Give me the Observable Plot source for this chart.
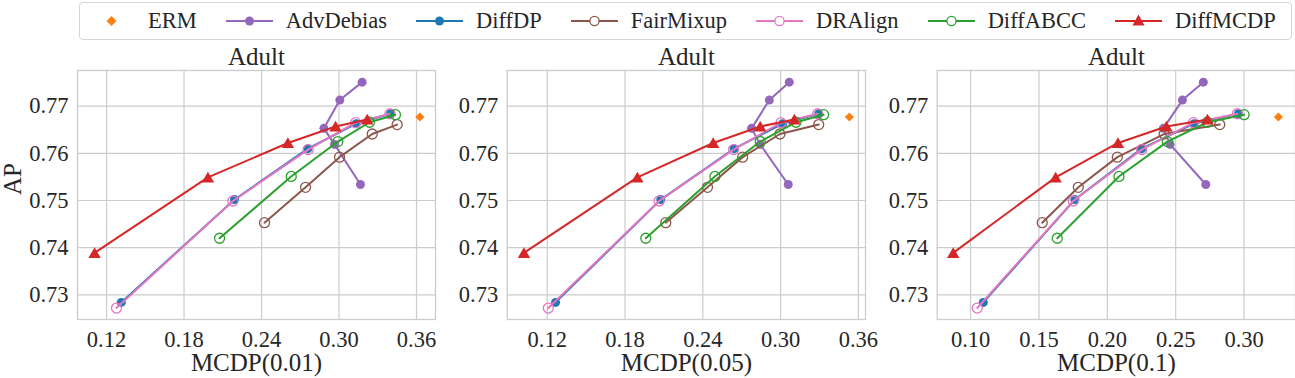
<!DOCTYPE html>
<html>
<head>
<meta charset="utf-8">
<script src="https://cdn.jsdelivr.net/npm/d3@7"></script>
<script src="https://cdn.jsdelivr.net/npm/@observablehq/plot@0.6"></script>
<style>
  html, body { margin: 0; padding: 0; background: #fff; }
  body { font-family: "Liberation Serif", "Times New Roman", serif; color: #262626; }
  #wrap { position: relative; width: 1295px; height: 378px; overflow: hidden; background: #fff; }
  #legend { position: absolute; left: 79px; top: 2px; width: 1213px; height: 38px; box-sizing: border-box;
            border: 1px solid #d6d6d6; border-radius: 4px; display: flex; align-items: center;
            padding-left: 8px; font-size: 22.5px; white-space: nowrap; }
  .item { display: flex; align-items: center; margin-right: 29px; }
  .item svg { margin-right: 13px; display: block; }
  .panel { position: absolute; top: 0; }
  .panel text { font-family: "Liberation Serif", "Times New Roman", serif !important; font-variant-numeric: normal; }
</style>
</head>
<body>
<div id="wrap"><div id="legend"></div></div>
<script>
// ---------------- data ----------------
const methods = ["ERM", "AdvDebias", "DiffDP", "FairMixup", "DRAlign", "DiffABCC", "DiffMCDP"];
const colors  = ["#ff7f0e", "#9467bd", "#1f77b4", "#8c564b", "#e377c2", "#2ca02c", "#d62728"];
const panelTitle = "Adult";
const xLabels = ["MCDP(0.01)", "MCDP(0.05)", "MCDP(0.1)"];
const xTicks = [
  [0.12, 0.18, 0.24, 0.30, 0.36],
  [0.12, 0.18, 0.24, 0.30, 0.36],
  [0.10, 0.15, 0.20, 0.25, 0.30]
];
const yTicks = [0.73, 0.74, 0.75, 0.76, 0.77];

// AP (same for every panel)
const apERM       = [0.7677];
const apAdvDebias = [0.7751, 0.7713, 0.7653, 0.7619, 0.7534];
const apDiffDP    = [0.7284, 0.7502, 0.7610, 0.7663, 0.7684];
const apFairMixup = [0.7453, 0.7528, 0.7592, 0.7641, 0.7661];
const apDRAlign   = [0.7272, 0.7499, 0.7608, 0.7665, 0.7684];
const apDiffABCC  = [0.7420, 0.7551, 0.7625, 0.7666, 0.7682];
const apDiffMCDP  = [0.7389, 0.7549, 0.7622, 0.7657, 0.7672];

// MCDP values, one row per panel: MCDP(0.01), MCDP(0.05), MCDP(0.1)
const mcdpERM = [[0.3626], [0.3531], [0.3251]];
const mcdpAdvDebias = [
  [0.3179, 0.3006, 0.2883, 0.2965, 0.3166],
  [0.3067, 0.2913, 0.2776, 0.2843, 0.3059],
  [0.2702, 0.2549, 0.2410, 0.2459, 0.2720]
];
const mcdpDiffDP = [
  [0.1314, 0.2191, 0.2759, 0.3133, 0.3399],
  [0.1264, 0.2076, 0.2642, 0.3016, 0.3294],
  [0.1093, 0.1763, 0.2251, 0.2634, 0.2959]
];
const mcdpFairMixup = [
  [0.2423, 0.2741, 0.3004, 0.3257, 0.3450],
  [0.2114, 0.2436, 0.2707, 0.2995, 0.3294],
  [0.1524, 0.1788, 0.2073, 0.2415, 0.2822]
];
const mcdpDRAlign = [
  [0.1277, 0.2178, 0.2761, 0.3128, 0.3394],
  [0.1208, 0.2063, 0.2637, 0.3003, 0.3286],
  [0.1049, 0.1751, 0.2251, 0.2629, 0.2951]
];
const mcdpDiffABCC = [
  [0.2075, 0.2630, 0.2991, 0.3236, 0.3437],
  [0.1960, 0.2493, 0.2843, 0.3119, 0.3332],
  [0.1634, 0.2085, 0.2439, 0.2732, 0.3000]
];
const mcdpDiffMCDP = [
  [0.1107, 0.1985, 0.2604, 0.2973, 0.3218],
  [0.1020, 0.1895, 0.2480, 0.2843, 0.3106],
  [0.0873, 0.1622, 0.2078, 0.2432, 0.2732]
];

// ---------------- build ----------------
const apBy   = [apERM, apAdvDebias, apDiffDP, apFairMixup, apDRAlign, apDiffABCC, apDiffMCDP];
const mcdpBy = [mcdpERM, mcdpAdvDebias, mcdpDiffDP, mcdpFairMixup, mcdpDRAlign, mcdpDiffABCC, mcdpDiffMCDP];
// marker style per method: [symbol, filled, hasLine]
const styles = [
  ["diamond2", true, false],
  ["circle", true, true],
  ["circle", true, true],
  ["circle", false, true],
  ["circle", false, true],
  ["circle", false, true],
  ["triangle", true, true]
];

const FONT = "'Liberation Serif', 'Times New Roman', serif";
const layout = [
  {left: 0,   width: 440, ml: 77,   mr: 5, domain: [0.0975, 0.3747]},
  {left: 440, width: 430, ml: 66.7, mr: 5, domain: [0.0891, 0.3655]},
  {left: 870, width: 425, ml: 66.7, mr: 0, domain: [0.0756, 0.3376]}
];
const fmt = d3.format(".2f");
const wrap = document.getElementById("wrap");

layout.forEach((L, p) => {
  const marks = [
    Plot.gridX(xTicks[p], {stroke: "#cccccc", strokeOpacity: 1, strokeWidth: 1.2}),
    Plot.gridY(yTicks, {stroke: "#cccccc", strokeOpacity: 1, strokeWidth: 1.2}),
    Plot.frame({stroke: "#cccccc", strokeWidth: 1.3})
  ];
  methods.forEach((m, k) => {
    const rows = mcdpBy[k][p].map((x, i) => ({x, y: apBy[k][i], method: m}));
    const [symbol, filled, hasLine] = styles[k];
    if (hasLine) marks.push(Plot.line(rows, {x: "x", y: "y", stroke: colors[k], strokeWidth: 2}));
    const r = symbol === "triangle" ? 4.6 : symbol === "diamond2" ? 4.1 : filled ? 4.5 : 5;
    marks.push(Plot.dot(rows, {
      x: "x", y: "y", symbol, r,
      fill: filled ? colors[k] : "none",
      stroke: filled ? "none" : colors[k],
      strokeWidth: filled ? 0 : 1.3,
      dy: symbol === "triangle" ? 1.5 : 0
    }));
  });
  marks.push(
    Plot.axisX(xTicks[p], {tickSize: 0, tickPadding: 12, tickFormat: fmt, fontSize: 22.5, fontFamily: FONT, label: null, fill: "#262626"}),
    Plot.axisY(yTicks, {tickSize: 0, tickPadding: 9, tickFormat: fmt, fontSize: 22.5, fontFamily: FONT, label: null, fill: "#262626"}),
    Plot.text([panelTitle], {frameAnchor: "top", dy: -6, lineAnchor: "bottom", fontSize: 25, fontFamily: FONT, fill: "#262626"}),
    Plot.text([xLabels[p]], {frameAnchor: "bottom", dy: 51, lineAnchor: "bottom", fontSize: 25, fontFamily: FONT, fill: "#262626"})
  );
  if (p === 0) marks.push(Plot.text(["AP"], {frameAnchor: "left", rotate: -90, dx: -57, lineAnchor: "bottom", fontSize: 25, fontFamily: FONT, fill: "#262626"}));

  const chart = Plot.plot({
    width: L.width, height: 378,
    marginLeft: L.ml, marginRight: L.mr, marginTop: 70, marginBottom: 59,
    x: {domain: L.domain},
    y: {domain: [0.72477, 0.77757]},
    style: {fontFamily: FONT, background: "transparent", overflow: "visible", color: "#262626"},
    marks
  });
  chart.classList.add("panel");
  chart.style.left = L.left + "px";
  chart.style.position = "absolute";
  chart.style.top = "0px";
  wrap.appendChild(chart);
});

// ---------------- legend ----------------
const legend = document.getElementById("legend");
methods.forEach((m, k) => {
  const [symbol, filled, hasLine] = styles[k];
  const item = document.createElement("div");
  item.className = "item";
  const c = colors[k];
  let marker = "";
  if (symbol === "diamond2") marker = `<path d="M23.5,16 L28.5,11 L23.5,6 L18.5,11 Z" fill="${c}"/>`;
  else if (symbol === "triangle") marker = `<path d="M23.5,4.5 L29.5,15.5 L17.5,15.5 Z" fill="${c}"/>`;
  else if (filled) marker = `<circle cx="23.5" cy="11" r="4.5" fill="${c}"/>`;
  else marker = `<circle cx="23.5" cy="11" r="4.6" fill="#fff" stroke="${c}" stroke-width="1.3"/>`;
  const line = hasLine ? `<line x1="0" x2="47" y1="11" y2="11" stroke="${c}" stroke-width="2"/>` : "";
  item.innerHTML = `<svg width="47" height="22" viewBox="0 0 47 22">${line}${marker}</svg><span>${m}</span>`;
  legend.appendChild(item);
});
</script>
</body>
</html>
